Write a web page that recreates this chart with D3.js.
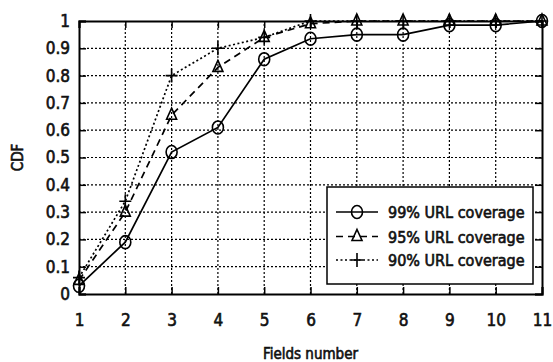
<!DOCTYPE html>
<html>
<head>
<meta charset="utf-8">
<script src="https://cdnjs.cloudflare.com/ajax/libs/d3/7.8.5/d3.min.js"></script>
<style>
body { margin: 0; background: #fff; }
text { font-family: "DejaVu Sans Condensed", "DejaVu Sans", sans-serif; fill: #111; stroke: #111; stroke-width: 0.6px; }
</style>
</head>
<body>
<div id="chart"></div>
<script>
var w = 553;
var h = 362;

// data
var fields = [1, 2, 3, 4, 5, 6, 7, 8, 9, 10, 11];
var cov99 = [0.03, 0.19, 0.52, 0.61, 0.86, 0.935, 0.95, 0.95, 0.985, 0.985, 1.0];
var cov95 = [0.05, 0.30, 0.655, 0.83, 0.94, 0.99, 1.0, 1.0, 1.0, 1.0, 1.0];
var cov90 = [0.06, 0.34, 0.80, 0.90, 0.94, 1.0, 1.0, 1.0, 1.0, 1.0, 1.0];
var seriesNames = ["99% URL coverage", "95% URL coverage", "90% URL coverage"];
var yTicks = [0, 0.1, 0.2, 0.3, 0.4, 0.5, 0.6, 0.7, 0.8, 0.9, 1];

var margin = {left: 79, top: 21, right: 11, bottom: 68};

var xScale = d3.scaleLinear()
    .domain([1, 11])
    .range([margin.left, w - margin.right]);
var yScale = d3.scaleLinear()
    .domain([0, 1])
    .range([h - margin.bottom, margin.top]);

var svg = d3.select("#chart")
    .append("svg")
    .attr("width", w)
    .attr("height", h);

// grid
svg.append("g").selectAll("line")
   .data(fields.slice(1, -1))
   .enter()
   .append("line")
   .attr("x1", function(d) { return xScale(d); })
   .attr("x2", function(d) { return xScale(d); })
   .attr("y1", yScale(0))
   .attr("y2", yScale(1))
   .attr("stroke", "#000")
   .attr("stroke-width", 1.2)
   .attr("stroke-dasharray", "2,2");
svg.append("g").selectAll("line")
   .data(yTicks.slice(1, -1))
   .enter()
   .append("line")
   .attr("x1", xScale(1))
   .attr("x2", xScale(11))
   .attr("y1", function(d) { return yScale(d); })
   .attr("y2", function(d) { return yScale(d); })
   .attr("stroke", "#000")
   .attr("stroke-width", 1.2)
   .attr("stroke-dasharray", "2,2");

// axes (ticks inside, mirrored)
var xAxis = d3.axisBottom(xScale).tickValues(fields).tickSize(-7).tickPadding(20).tickFormat(d3.format("d"));
var yAxis = d3.axisLeft(yScale).tickValues(yTicks).tickSize(-7).tickPadding(9).tickFormat(function(d) { return d === 0 || d === 1 ? d : d3.format(".1f")(d); });

var gx = svg.append("g")
    .attr("transform", "translate(0," + yScale(0) + ")")
    .call(xAxis);
var gy = svg.append("g")
    .attr("transform", "translate(" + xScale(1) + ",0)")
    .call(yAxis);
svg.append("g")
    .attr("transform", "translate(0," + yScale(1) + ")")
    .call(d3.axisTop(xScale).tickValues(fields).tickSize(-7).tickFormat(""));
svg.append("g")
    .attr("transform", "translate(" + xScale(11) + ",0)")
    .call(d3.axisRight(yScale).tickValues(yTicks).tickSize(-7).tickFormat(""));

svg.selectAll(".domain").attr("stroke", "#000").attr("stroke-width", 2);
svg.selectAll(".tick line").attr("stroke", "#000").attr("stroke-width", 1.5);
gx.selectAll("text").attr("font-size", "17px").attr("font-family", null).attr("fill", null);
gy.selectAll("text").attr("font-size", "17px").attr("font-family", null).attr("fill", null);

// axis titles
svg.append("text")
   .attr("x", (xScale(1) + xScale(11)) / 2)
   .attr("y", 359)
   .attr("text-anchor", "middle")
   .attr("font-size", "15px")
   .text("Fields number");
svg.append("text")
   .attr("transform", "translate(23," + (yScale(0.5)) + ") rotate(-90)")
   .attr("text-anchor", "middle")
   .attr("font-size", "15px")
   .text("CDF");

// lines
var allSeries = [cov99, cov95, cov90];
var dashes = [null, "7,5", "2,2.5"];
var line = d3.line()
    .x(function(d, i) { return xScale(fields[i]); })
    .y(function(d) { return yScale(d); });

function drawMarker(g, type, x, y) {
  if (type === 0) {
    g.append("ellipse").attr("cx", x).attr("cy", y).attr("rx", 5.5).attr("ry", 6.5)
     .attr("fill", "none").attr("stroke", "#000").attr("stroke-width", 1.6);
  } else if (type === 1) {
    g.append("path")
     .attr("d", "M" + x + "," + (y - 7) + "L" + (x + 5) + "," + (y + 4) + "L" + (x - 5) + "," + (y + 4) + "Z")
     .attr("fill", "none").attr("stroke", "#000").attr("stroke-width", 1.6);
  } else {
    g.append("path")
     .attr("d", "M" + (x - 6) + "," + y + "H" + (x + 6) + "M" + x + "," + (y - 7) + "V" + (y + 7))
     .attr("stroke", "#000").attr("stroke-width", 1.6);
  }
}

allSeries.forEach(function(s, k) {
  svg.append("path")
     .datum(s)
     .attr("d", line)
     .attr("fill", "none")
     .attr("stroke", "#000")
     .attr("stroke-width", 1.7)
     .attr("stroke-dasharray", dashes[k]);
  var g = svg.append("g");
  s.forEach(function(d, i) {
    drawMarker(g, k, xScale(fields[i]), yScale(d));
  });
});

// legend
var lg = svg.append("g");
lg.append("rect")
  .attr("x", 327).attr("y", 187)
  .attr("width", 206).attr("height", 97)
  .attr("fill", "#fff").attr("stroke", "#000").attr("stroke-width", 1.5);
var legY = [212, 236.5, 260];
seriesNames.forEach(function(name, k) {
  lg.append("line")
    .attr("x1", 336).attr("x2", 378)
    .attr("y1", legY[k]).attr("y2", legY[k])
    .attr("stroke", "#000").attr("stroke-width", 1.6)
    .attr("stroke-dasharray", dashes[k]);
  drawMarker(lg, k, 357, legY[k]);
  lg.append("text")
    .attr("x", 388).attr("y", legY[k] + 6)
    .attr("font-size", "16px")
    .text(name);
});
</script>
</body>
</html>
